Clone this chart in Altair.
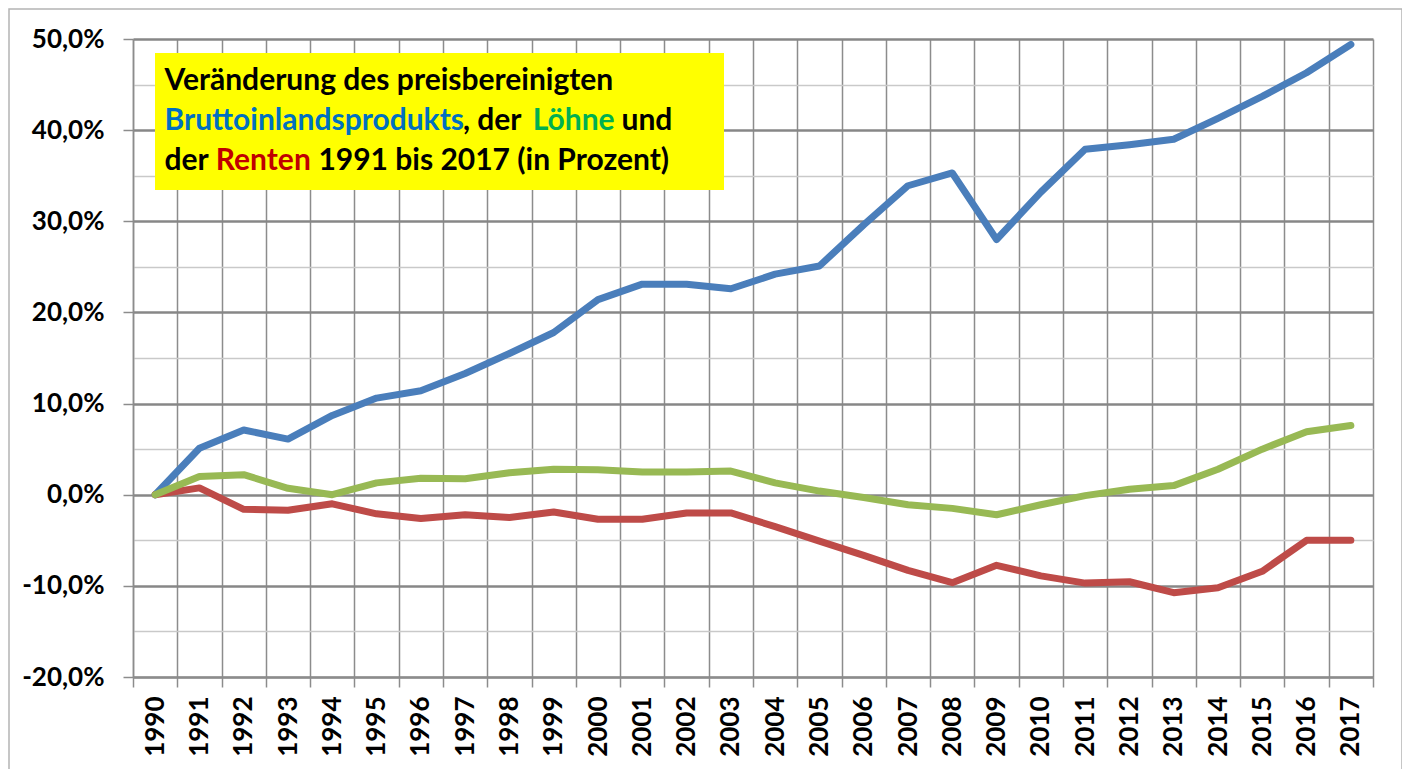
import altair as alt
import pandas as pd

years = [str(y) for y in range(1990, 2018)]
bip = [0, 5.1, 7.1, 6.1, 8.7, 10.6, 11.4, 13.3, 15.5, 17.8, 21.4, 23.1, 23.1, 22.6,
       24.2, 25.1, 29.6, 33.9, 35.3, 28.0, 33.2, 37.9, 38.4, 39.0, 41.3, 43.7, 46.3, 49.4]
loehne = [0, 2.0, 2.2, 0.7, 0.0, 1.3, 1.8, 1.75, 2.4, 2.8, 2.75, 2.5, 2.5, 2.6,
          1.3, 0.4, -0.3, -1.1, -1.5, -2.2, -1.1, -0.1, 0.6, 1.0, 2.8, 5.0, 6.9, 7.6]
renten = [0, 0.75, -1.6, -1.7, -1.0, -2.1, -2.6, -2.2, -2.5, -1.9, -2.7, -2.7, -2.0, -2.0,
          -3.5, -5.1, -6.65, -8.3, -9.65, -7.75, -8.9, -9.7, -9.55, -10.75, -10.2, -8.4, -5.0, -5.0]
y_ticks = list(range(-20, 55, 5))

df = pd.DataFrame({"year": years, "bip": bip, "loehne": loehne, "renten": renten})
one = pd.DataFrame({"a": [0]})

FONT = "Lato"

x_enc = alt.X(
    "year:O",
    bandPosition=0.5,
    scale=alt.Scale(type="band", paddingInner=0, paddingOuter=0),
    axis=alt.Axis(
        title=None, tickBand="extent", labelAngle=270, grid=True,
        gridColor="#8c8c8c", gridWidth=1.5, tickColor="#8c8c8c", tickWidth=1.5,
        tickSize=10, labelPadding=9, domainColor="#8c8c8c", domainWidth=1.5,
        labelFont=FONT, labelFontWeight="bold", labelFontSize=26, labelColor="#000000",
    ),
)

y_axis = alt.Axis(
    title=None, values=y_ticks, grid=True,
    gridColor={"condition": {"test": "datum.value % 10 == 0", "value": "#878787"}, "value": "#c9c9c9"},
    gridWidth={"condition": {"test": "datum.value % 10 == 0", "value": 2.5}, "value": 1.5},
    tickOpacity={"condition": {"test": "datum.value % 10 == 0", "value": 1}, "value": 0},
    tickColor="#8c8c8c", tickWidth=1.5, tickSize=10, labelPadding=19,
    labelExpr="datum.value % 10 == 0 ? replace(replace(format(datum.value, '.1f'), '.', ','), '\u2212', '-') + '%' : ''",
    domainColor="#8c8c8c", domainWidth=1.5,
    labelFont=FONT, labelFontWeight="bold", labelFontSize=26, labelColor="#000000",
)

def series(field, color):
    return alt.Chart(df).mark_line(
        strokeWidth=7, strokeCap="round", strokeJoin="round", color=color
    ).encode(
        x=x_enc,
        y=alt.Y(f"{field}:Q", scale=alt.Scale(domain=[-20, 50], nice=False, zero=False), axis=y_axis),
    )

border = alt.Chart(one).mark_rect(fillOpacity=0, stroke="#b4b4b4", strokeWidth=1.5).encode(
    x=alt.value(-124), x2=alt.value(1269), y=alt.value(-30), y2=alt.value(800)
)
box = alt.Chart(one).mark_rect(fill="#ffff00").encode(
    x=alt.value(22), x2=alt.value(591), y=alt.value(14), y2=alt.value(151)
)

segments = [
    ("Veränderung des preisbereinigten", "#000000", 31.5, 51),
    ("Bruttoinlandsprodukts", "#0070c0", 31.5, 91),
    (", der", "#000000", 330, 91),
    ("Löhne", "#00b050", 399.7, 91),
    ("und", "#000000", 488.5, 91),
    ("der", "#000000", 31.5, 131),
    ("Renten", "#c00000", 82.8, 131),
    ("1991 bis 2017 (in Prozent)", "#000000", 185.4, 131),
]
texts = [
    alt.Chart(one).mark_text(
        text=t, color=c, font=FONT, fontWeight="bold", fontSize=30,
        align="left", baseline="alphabetic"
    ).encode(x=alt.value(x), y=alt.value(y))
    for t, c, x, y in segments
]

chart = alt.layer(
    border,
    series("bip", "#4a7ebb"),
    series("renten", "#be4b48"),
    series("loehne", "#98b954"),
    box,
    *texts,
).properties(
    width=1240, height=638,
    autosize=alt.AutoSizeParams(type="none"),
    padding={"left": 125, "top": 31, "right": 29, "bottom": 92},
).configure_view(stroke="transparent")

chart.save("out.html", embed_options={"renderer": "svg", "actions": False})
